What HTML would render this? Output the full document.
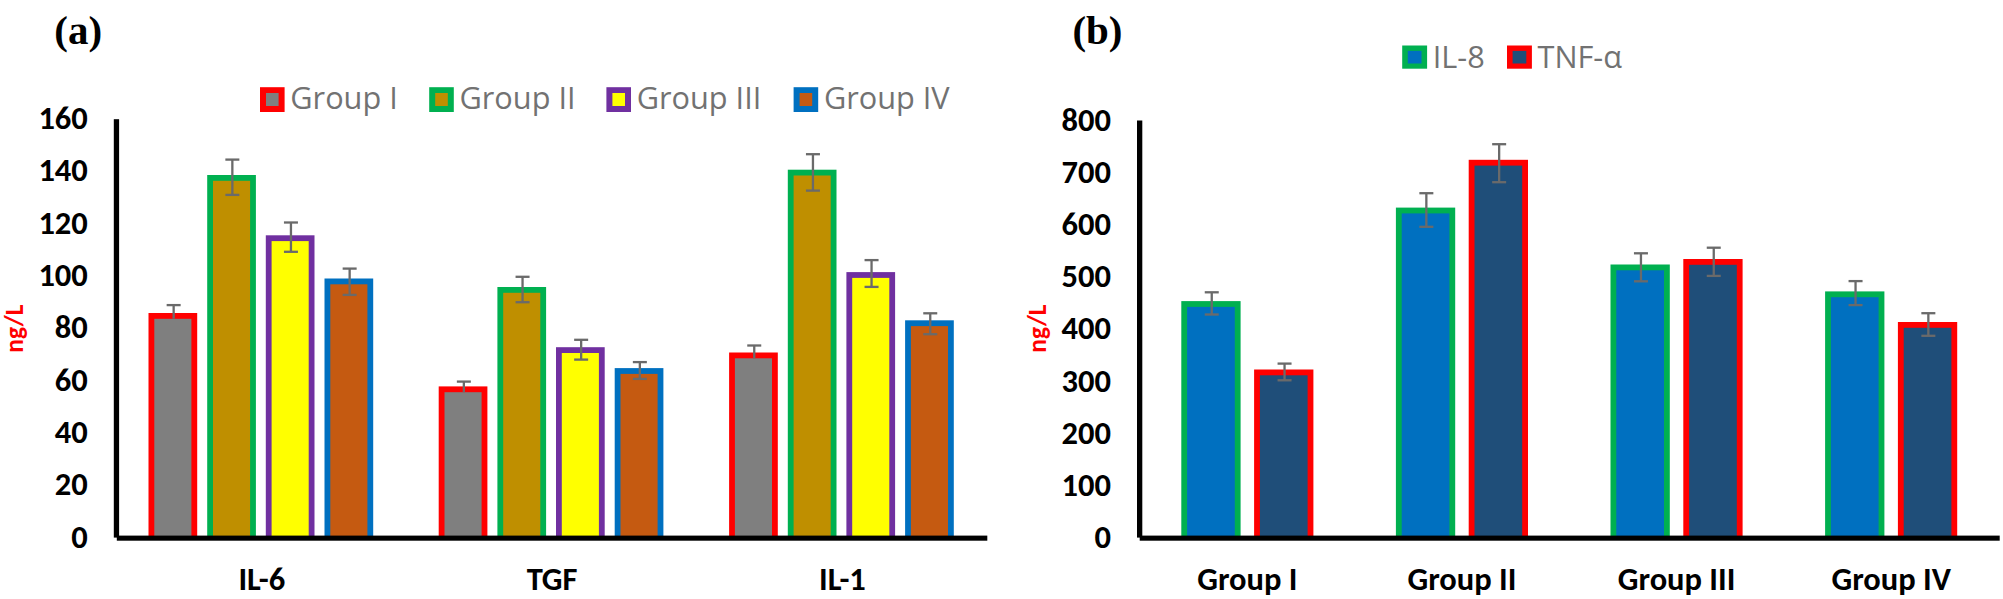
<!DOCTYPE html>
<html><head><meta charset="utf-8"><title>Cytokine levels (a) and (b)</title>
<style>
html,body{margin:0;padding:0;background:#fff;}
body{width:2003px;height:599px;overflow:hidden;}
svg{display:block;}
.tk{font-family:Carlito,"Liberation Sans",sans-serif;font-weight:700;font-size:32.5px;fill:#000;}
.yl{font-family:Carlito,"Liberation Sans",sans-serif;font-weight:700;font-size:25.5px;fill:#ff0000;}
.pl{font-family:"Liberation Serif",serif;font-weight:700;font-size:41px;fill:#000;}
.lg{font-family:"Open Sans","Liberation Sans",sans-serif;font-weight:400;font-size:30.7px;fill:#727272;}
</style></head>
<body>
<svg width="2003" height="599" viewBox="0 0 2003 599">
<rect width="2003" height="599" fill="#fff"/>
<rect x="148.50" y="313.00" width="48.70" height="226.50" fill="#ff0000"/>
<rect x="154.30" y="318.80" width="37.10" height="220.70" fill="#7f7f7f"/>
<rect x="207.20" y="175.00" width="48.70" height="364.50" fill="#00b050"/>
<rect x="213.00" y="180.80" width="37.10" height="358.70" fill="#bf8f00"/>
<rect x="265.80" y="235.30" width="48.70" height="304.20" fill="#7030a0"/>
<rect x="271.60" y="241.10" width="37.10" height="298.40" fill="#ffff00"/>
<rect x="324.50" y="278.50" width="48.70" height="261.00" fill="#0070c0"/>
<rect x="330.30" y="284.30" width="37.10" height="255.20" fill="#c55a11"/>
<rect x="438.70" y="386.40" width="48.70" height="153.10" fill="#ff0000"/>
<rect x="444.50" y="392.20" width="37.10" height="147.30" fill="#7f7f7f"/>
<rect x="497.40" y="287.00" width="48.70" height="252.50" fill="#00b050"/>
<rect x="503.20" y="292.80" width="37.10" height="246.70" fill="#bf8f00"/>
<rect x="556.00" y="347.20" width="48.70" height="192.30" fill="#7030a0"/>
<rect x="561.80" y="353.00" width="37.10" height="186.50" fill="#ffff00"/>
<rect x="614.70" y="368.10" width="48.70" height="171.40" fill="#0070c0"/>
<rect x="620.50" y="373.90" width="37.10" height="165.60" fill="#c55a11"/>
<rect x="729.10" y="352.50" width="48.70" height="187.00" fill="#ff0000"/>
<rect x="734.90" y="358.30" width="37.10" height="181.20" fill="#7f7f7f"/>
<rect x="787.80" y="169.70" width="48.70" height="369.80" fill="#00b050"/>
<rect x="793.60" y="175.50" width="37.10" height="364.00" fill="#bf8f00"/>
<rect x="846.40" y="272.10" width="48.70" height="267.40" fill="#7030a0"/>
<rect x="852.20" y="277.90" width="37.10" height="261.60" fill="#ffff00"/>
<rect x="905.10" y="320.30" width="48.70" height="219.20" fill="#0070c0"/>
<rect x="910.90" y="326.10" width="37.10" height="213.40" fill="#c55a11"/>
<rect x="172.50" y="305.10" width="2.30" height="13.70" fill="#6a6a6a"/>
<rect x="166.65" y="303.95" width="14.00" height="2.30" fill="#6a6a6a"/>
<rect x="231.20" y="159.60" width="2.30" height="35.30" fill="#6a6a6a"/>
<rect x="225.35" y="158.45" width="14.00" height="2.30" fill="#6a6a6a"/>
<rect x="225.35" y="193.75" width="14.00" height="2.30" fill="#6a6a6a"/>
<rect x="289.80" y="222.50" width="2.30" height="29.30" fill="#6a6a6a"/>
<rect x="283.95" y="221.35" width="14.00" height="2.30" fill="#6a6a6a"/>
<rect x="283.95" y="250.65" width="14.00" height="2.30" fill="#6a6a6a"/>
<rect x="348.50" y="268.60" width="2.30" height="26.30" fill="#6a6a6a"/>
<rect x="342.65" y="267.45" width="14.00" height="2.30" fill="#6a6a6a"/>
<rect x="342.65" y="293.75" width="14.00" height="2.30" fill="#6a6a6a"/>
<rect x="462.70" y="381.60" width="2.30" height="10.60" fill="#6a6a6a"/>
<rect x="456.85" y="380.45" width="14.00" height="2.30" fill="#6a6a6a"/>
<rect x="521.40" y="276.80" width="2.30" height="25.40" fill="#6a6a6a"/>
<rect x="515.55" y="275.65" width="14.00" height="2.30" fill="#6a6a6a"/>
<rect x="515.55" y="301.05" width="14.00" height="2.30" fill="#6a6a6a"/>
<rect x="580.00" y="339.80" width="2.30" height="19.80" fill="#6a6a6a"/>
<rect x="574.15" y="338.65" width="14.00" height="2.30" fill="#6a6a6a"/>
<rect x="574.15" y="358.45" width="14.00" height="2.30" fill="#6a6a6a"/>
<rect x="638.70" y="362.10" width="2.30" height="16.80" fill="#6a6a6a"/>
<rect x="632.85" y="360.95" width="14.00" height="2.30" fill="#6a6a6a"/>
<rect x="632.85" y="377.75" width="14.00" height="2.30" fill="#6a6a6a"/>
<rect x="753.10" y="345.50" width="2.30" height="12.80" fill="#6a6a6a"/>
<rect x="747.25" y="344.35" width="14.00" height="2.30" fill="#6a6a6a"/>
<rect x="811.80" y="154.20" width="2.30" height="36.40" fill="#6a6a6a"/>
<rect x="805.95" y="153.05" width="14.00" height="2.30" fill="#6a6a6a"/>
<rect x="805.95" y="189.45" width="14.00" height="2.30" fill="#6a6a6a"/>
<rect x="870.40" y="260.10" width="2.30" height="26.80" fill="#6a6a6a"/>
<rect x="864.55" y="258.95" width="14.00" height="2.30" fill="#6a6a6a"/>
<rect x="864.55" y="285.75" width="14.00" height="2.30" fill="#6a6a6a"/>
<rect x="929.10" y="313.30" width="2.30" height="20.90" fill="#6a6a6a"/>
<rect x="923.25" y="312.15" width="14.00" height="2.30" fill="#6a6a6a"/>
<rect x="923.25" y="333.05" width="14.00" height="2.30" fill="#6a6a6a"/>
<rect x="113.80" y="119.20" width="5.30" height="418.40" fill="#000"/>
<rect x="116.80" y="535.60" width="870.50" height="5.10" fill="#000"/>
<text x="87.80" y="128.90" class="tk" text-anchor="end" >160</text>
<text x="87.80" y="181.25" class="tk" text-anchor="end" >140</text>
<text x="87.80" y="233.60" class="tk" text-anchor="end" >120</text>
<text x="87.80" y="285.95" class="tk" text-anchor="end" >100</text>
<text x="87.80" y="338.30" class="tk" text-anchor="end" >80</text>
<text x="87.80" y="390.65" class="tk" text-anchor="end" >60</text>
<text x="87.80" y="443.00" class="tk" text-anchor="end" >40</text>
<text x="87.80" y="495.35" class="tk" text-anchor="end" >20</text>
<text x="87.80" y="547.70" class="tk" text-anchor="end" >0</text>
<text x="261.85" y="590.30" class="tk" text-anchor="middle" >IL-6</text>
<text x="552.05" y="590.30" class="tk" text-anchor="middle" >TGF</text>
<text x="842.45" y="590.30" class="tk" text-anchor="middle" >IL-1</text>
<text class="yl" transform="translate(22.8,328.6) rotate(-90)" text-anchor="middle">ng/L</text>
<text x="54.30" y="43.90" class="pl" text-anchor="start" >(a)</text>
<rect x="260.00" y="87.20" width="24.60" height="24.80" fill="#ff0000"/>
<rect x="266.00" y="93.00" width="12.60" height="13.00" fill="#7f7f7f"/>
<text x="290.30" y="109.00" class="lg" text-anchor="start" >Group I</text>
<rect x="429.20" y="87.20" width="24.60" height="24.80" fill="#00b050"/>
<rect x="435.20" y="93.00" width="12.60" height="13.00" fill="#bf8f00"/>
<text x="459.50" y="109.00" class="lg" text-anchor="start" >Group II</text>
<rect x="606.40" y="87.20" width="24.60" height="24.80" fill="#7030a0"/>
<rect x="612.40" y="93.00" width="12.60" height="13.00" fill="#ffff00"/>
<text x="636.70" y="109.00" class="lg" text-anchor="start" >Group III</text>
<rect x="793.60" y="87.20" width="24.60" height="24.80" fill="#0070c0"/>
<rect x="799.60" y="93.00" width="12.60" height="13.00" fill="#c55a11"/>
<text x="823.90" y="109.00" class="lg" text-anchor="start" >Group IV</text>
<rect x="1181.30" y="301.10" width="59.30" height="238.40" fill="#00b050"/>
<rect x="1187.10" y="306.90" width="47.70" height="232.60" fill="#0070c0"/>
<rect x="1254.10" y="369.50" width="59.30" height="170.00" fill="#ff0000"/>
<rect x="1259.90" y="375.30" width="47.70" height="164.20" fill="#1f4e79"/>
<rect x="1395.90" y="207.60" width="59.30" height="331.90" fill="#00b050"/>
<rect x="1401.70" y="213.40" width="47.70" height="326.10" fill="#0070c0"/>
<rect x="1468.70" y="159.80" width="59.30" height="379.70" fill="#ff0000"/>
<rect x="1474.50" y="165.60" width="47.70" height="373.90" fill="#1f4e79"/>
<rect x="1610.50" y="264.50" width="59.30" height="275.00" fill="#00b050"/>
<rect x="1616.30" y="270.30" width="47.70" height="269.20" fill="#0070c0"/>
<rect x="1683.30" y="259.00" width="59.30" height="280.50" fill="#ff0000"/>
<rect x="1689.10" y="264.80" width="47.70" height="274.70" fill="#1f4e79"/>
<rect x="1825.10" y="291.40" width="59.30" height="248.10" fill="#00b050"/>
<rect x="1830.90" y="297.20" width="47.70" height="242.30" fill="#0070c0"/>
<rect x="1897.90" y="322.00" width="59.30" height="217.50" fill="#ff0000"/>
<rect x="1903.70" y="327.80" width="47.70" height="211.70" fill="#1f4e79"/>
<rect x="1210.60" y="292.30" width="2.30" height="22.20" fill="#6a6a6a"/>
<rect x="1204.75" y="291.15" width="14.00" height="2.30" fill="#6a6a6a"/>
<rect x="1204.75" y="313.35" width="14.00" height="2.30" fill="#6a6a6a"/>
<rect x="1283.40" y="363.60" width="2.30" height="16.70" fill="#6a6a6a"/>
<rect x="1277.55" y="362.45" width="14.00" height="2.30" fill="#6a6a6a"/>
<rect x="1277.55" y="379.15" width="14.00" height="2.30" fill="#6a6a6a"/>
<rect x="1425.20" y="193.20" width="2.30" height="33.60" fill="#6a6a6a"/>
<rect x="1419.35" y="192.05" width="14.00" height="2.30" fill="#6a6a6a"/>
<rect x="1419.35" y="225.65" width="14.00" height="2.30" fill="#6a6a6a"/>
<rect x="1498.00" y="144.20" width="2.30" height="38.00" fill="#6a6a6a"/>
<rect x="1492.15" y="143.05" width="14.00" height="2.30" fill="#6a6a6a"/>
<rect x="1492.15" y="181.05" width="14.00" height="2.30" fill="#6a6a6a"/>
<rect x="1639.80" y="253.30" width="2.30" height="28.00" fill="#6a6a6a"/>
<rect x="1633.95" y="252.15" width="14.00" height="2.30" fill="#6a6a6a"/>
<rect x="1633.95" y="280.15" width="14.00" height="2.30" fill="#6a6a6a"/>
<rect x="1712.60" y="247.70" width="2.30" height="28.20" fill="#6a6a6a"/>
<rect x="1706.75" y="246.55" width="14.00" height="2.30" fill="#6a6a6a"/>
<rect x="1706.75" y="274.75" width="14.00" height="2.30" fill="#6a6a6a"/>
<rect x="1854.40" y="281.10" width="2.30" height="24.00" fill="#6a6a6a"/>
<rect x="1848.55" y="279.95" width="14.00" height="2.30" fill="#6a6a6a"/>
<rect x="1848.55" y="303.95" width="14.00" height="2.30" fill="#6a6a6a"/>
<rect x="1927.20" y="313.20" width="2.30" height="22.60" fill="#6a6a6a"/>
<rect x="1921.35" y="312.05" width="14.00" height="2.30" fill="#6a6a6a"/>
<rect x="1921.35" y="334.65" width="14.00" height="2.30" fill="#6a6a6a"/>
<rect x="1137.00" y="120.50" width="5.30" height="417.10" fill="#000"/>
<rect x="1139.70" y="535.60" width="860.00" height="5.10" fill="#000"/>
<text x="1111.00" y="130.70" class="tk" text-anchor="end" >800</text>
<text x="1111.00" y="182.86" class="tk" text-anchor="end" >700</text>
<text x="1111.00" y="235.03" class="tk" text-anchor="end" >600</text>
<text x="1111.00" y="287.19" class="tk" text-anchor="end" >500</text>
<text x="1111.00" y="339.35" class="tk" text-anchor="end" >400</text>
<text x="1111.00" y="391.51" class="tk" text-anchor="end" >300</text>
<text x="1111.00" y="443.68" class="tk" text-anchor="end" >200</text>
<text x="1111.00" y="495.84" class="tk" text-anchor="end" >100</text>
<text x="1111.00" y="548.00" class="tk" text-anchor="end" >0</text>
<text x="1247.35" y="589.80" class="tk" text-anchor="middle" >Group I</text>
<text x="1461.95" y="589.80" class="tk" text-anchor="middle" >Group II</text>
<text x="1676.55" y="589.80" class="tk" text-anchor="middle" >Group III</text>
<text x="1891.15" y="589.80" class="tk" text-anchor="middle" >Group IV</text>
<text class="yl" transform="translate(1046.1,328.5) rotate(-90)" text-anchor="middle">ng/L</text>
<text x="1072.40" y="43.90" class="pl" text-anchor="start" >(b)</text>
<rect x="1402.20" y="45.50" width="24.90" height="23.20" fill="#00b050"/>
<rect x="1407.80" y="50.90" width="13.70" height="12.60" fill="#0070c0"/>
<text x="1432.70" y="67.70" class="lg" text-anchor="start" >IL-8</text>
<rect x="1507.00" y="45.50" width="24.90" height="23.20" fill="#ff0000"/>
<rect x="1512.60" y="50.90" width="13.70" height="12.60" fill="#1f4e79"/>
<text x="1537.50" y="67.70" class="lg" text-anchor="start" >TNF-α</text>
</svg>
</body></html>
